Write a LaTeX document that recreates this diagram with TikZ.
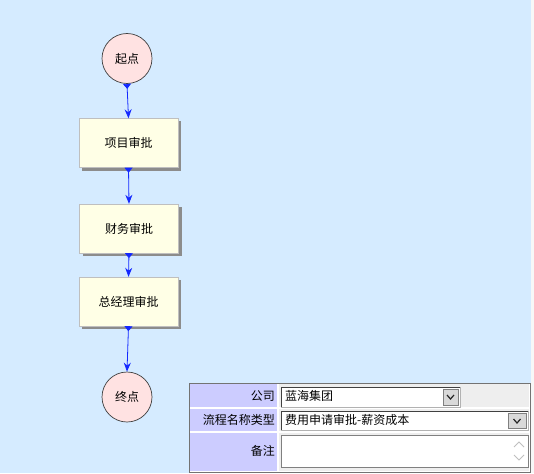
\documentclass[tikz,border=0pt]{standalone}
\usepackage{fontspec}
\newfontfamily\cjk{Noto Sans CJK SC}
\usetikzlibrary{arrows.meta,shadows}
\definecolor{bg}{RGB}{213,235,255}
\definecolor{nodepink}{RGB}{255,226,226}
\definecolor{boxyellow}{RGB}{255,255,230}
\definecolor{lav}{RGB}{204,204,255}
\definecolor{cellgray}{RGB}{238,238,238}
\definecolor{flowblue}{RGB}{20,40,255}
\tikzset{
  endpoint/.style={circle, draw=black!75, line width=0.7pt, fill=nodepink, minimum size=50pt, inner sep=0pt},
  stepbox/.style={rectangle, draw=black!25, fill=boxyellow, minimum width=99pt, minimum height=49pt,
    drop shadow={shadow xshift=3pt, shadow yshift=-3pt, opacity=1, fill=black!45}},
  flow/.style={draw=flowblue, line width=0.8pt, {Triangle[reversed,length=5pt,width=8pt]}-{Stealth[length=9pt,width=7pt]}},
  lbl/.style={anchor=east, inner sep=0pt},
  val/.style={anchor=west, inner sep=0pt},
}
\begin{document}
\begin{tikzpicture}[x=1pt,y=-1pt, font=\cjk\fontsize{12}{14}\selectfont]
\fill[bg] (0,0) rectangle (534,473);
\useasboundingbox (0,0) rectangle (534,473);
\fill[black!3] (531,0) rectangle (534,473);

\node[endpoint] (s) at (127,58.5) {起点};
\node[stepbox] (b1) at (128.5,143) {项目审批};
\node[stepbox] (b2) at (129,228.5) {财务审批};
\node[stepbox] (b3) at (128.5,301.5) {总经理审批};
\node[endpoint] (e) at (127,397) {终点};

\draw[flow] (s.south) -- (b1.north);
\draw[flow] (b1.south) -- (b2.north);
\draw[flow] (b2.south) -- (b3.north);
\draw[flow] (b3.south) -- (e.north);

% form panel
\fill[white] (189,383) rectangle (530,472);
\draw[black!55] (189,383) rectangle (530,472);
\fill[lav] (190,384) rectangle (277,407);
\fill[lav] (190,409) rectangle (277,431);
\fill[lav] (190,433) rectangle (277,471);
\fill[cellgray] (279,384) rectangle (529,407);
\fill[cellgray] (279,409) rectangle (529,431);
\fill[cellgray] (279,433) rectangle (529,471);

\node[lbl] (l1) at (275,396) {公司};
\node[lbl] (l2) at (275,420) {流程名称类型};
\node[lbl] (l3) at (275,451) {备注};

% combo 1
\fill[white] (281,387) rectangle (460,407);
\draw[black!75, line width=1pt] (281,407) -- (281,387) -- (460,387);
\draw[black!30] (460,387) -- (460,407) -- (281,407);
\fill[black!15] (443,389) rectangle (458,405);
\draw[black!50] (443,389) rectangle (458,405);
\draw[black!85, line width=1.2pt] (447,395) -- (450.5,399) -- (454,395);
\node[val] (v1) at (285,396) {蓝海集团};

% combo 2
\fill[white] (281,411) rectangle (528,430);
\draw[black!75, line width=1pt] (281,430) -- (281,411) -- (528,411);
\draw[black!30] (528,411) -- (528,430) -- (281,430);
\fill[black!15] (508,413) rectangle (526,428);
\draw[black!50] (508,413) rectangle (526,428);
\draw[black!85, line width=1.2pt] (513.5,419) -- (517,423) -- (520.5,419);
\node[val] (v2) at (285,420) {费用申请审批-薪资成本};

% text area
\fill[white] (281,435) rectangle (528,467);
\draw[black!50] (281,435) rectangle (528,467);
\draw[black!25, line width=0.8pt] (514,447) -- (519,442) -- (524,447);
\draw[black!25, line width=0.8pt] (514,455) -- (519,460) -- (524,455);
\end{tikzpicture}
\end{document}
